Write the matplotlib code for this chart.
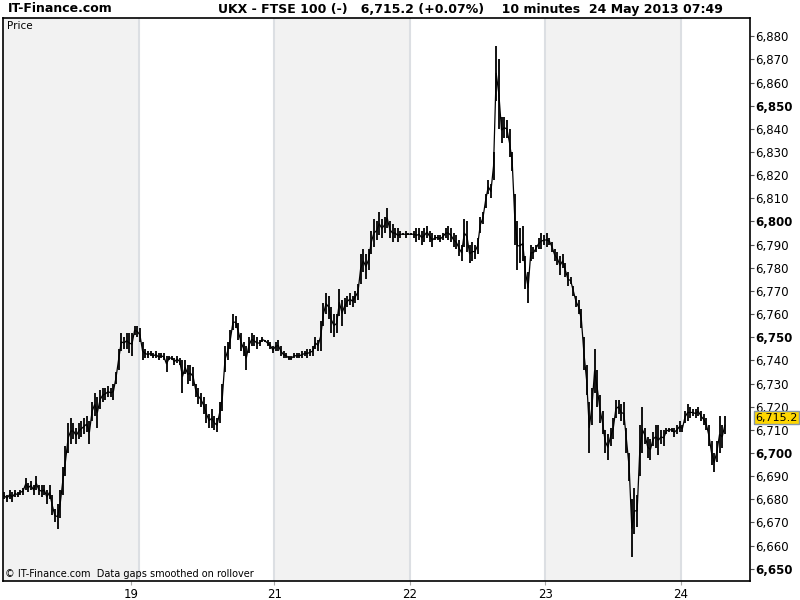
import matplotlib
matplotlib.use("Agg")
import matplotlib.pyplot as plt
import numpy as np

# ── 数据: 每日 10 分钟 K 线 (low, high) ──
day17_lo = [6680, 6679, 6680, 6679, 6681, 6681, 6682, 6682, 6684, 6683,
            6684, 6682, 6684, 6682, 6681, 6682, 6678, 6680, 6673, 6670,
            6667, 6672, 6682, 6690, 6700, 6704, 6706, 6704, 6706, 6707,
            6708, 6709, 6704, 6714, 6716, 6711, 6719, 6722, 6723, 6724,
            6724, 6723, 6730, 6736, 6744, 6745, 6745, 6743, 6742, 6751, 6750]
day17_hi = [6683, 6682, 6684, 6683, 6684, 6683, 6684, 6685, 6689, 6687,
            6688, 6686, 6690, 6686, 6686, 6686, 6684, 6686, 6682, 6676,
            6678, 6684, 6694, 6703, 6713, 6715, 6713, 6711, 6713, 6714,
            6715, 6716, 6714, 6722, 6726, 6724, 6727, 6728, 6728, 6729,
            6728, 6730, 6735, 6745, 6752, 6750, 6752, 6752, 6752, 6755, 6755]

day20_lo = [6748, 6740, 6741, 6741, 6742, 6741, 6741, 6740, 6741, 6740,
            6735, 6740, 6740, 6738, 6739, 6738, 6726, 6734, 6730, 6731,
            6729, 6724, 6721, 6720, 6717, 6713, 6711, 6711, 6710, 6709,
            6713, 6718, 6735, 6740, 6745, 6753, 6754, 6749, 6744, 6742,
            6736, 6743, 6746, 6746, 6745, 6746, 6748, 6748, 6746, 6745, 6743]
day20_hi = [6754, 6748, 6745, 6744, 6744, 6743, 6744, 6743, 6743, 6743,
            6742, 6742, 6742, 6741, 6742, 6741, 6740, 6740, 6738, 6738,
            6737, 6730, 6728, 6726, 6724, 6721, 6717, 6719, 6716, 6715,
            6722, 6730, 6746, 6748, 6753, 6760, 6759, 6756, 6752, 6748,
            6746, 6750, 6752, 6751, 6750, 6749, 6750, 6749, 6749, 6748, 6746]

day21_lo = [6744, 6744, 6742, 6741, 6741, 6740, 6740, 6741, 6741, 6741,
            6741, 6742, 6741, 6742, 6742, 6745, 6744, 6744, 6755, 6760,
            6758, 6752, 6750, 6752, 6759, 6755, 6760, 6763, 6764, 6763,
            6765, 6766, 6773, 6778, 6775, 6779, 6786, 6789, 6792, 6794,
            6793, 6795, 6797, 6793, 6791, 6793, 6791, 6793, 6794, 6793, 6794]
day21_hi = [6748, 6749, 6746, 6744, 6743, 6742, 6742, 6743, 6743, 6743,
            6744, 6744, 6745, 6745, 6746, 6750, 6749, 6757, 6765, 6769,
            6768, 6763, 6760, 6760, 6771, 6766, 6767, 6768, 6769, 6768,
            6770, 6773, 6786, 6788, 6786, 6788, 6796, 6801, 6800, 6804,
            6801, 6802, 6806, 6800, 6799, 6797, 6797, 6796, 6795, 6796, 6795]

day22_lo = [6794, 6793, 6791, 6792, 6790, 6791, 6793, 6791, 6789, 6792,
            6792, 6791, 6792, 6793, 6792, 6791, 6789, 6788, 6785, 6783,
            6789, 6787, 6782, 6783, 6784, 6786, 6795, 6799, 6806, 6812,
            6810, 6818, 6852, 6840, 6834, 6836, 6836, 6828, 6822, 6790,
            6779, 6782, 6783, 6771, 6765, 6783, 6784, 6787, 6788, 6788, 6790]
day22_hi = [6795, 6796, 6797, 6797, 6796, 6797, 6798, 6796, 6795, 6794,
            6794, 6794, 6795, 6797, 6798, 6797, 6795, 6794, 6792, 6790,
            6801, 6800, 6790, 6791, 6790, 6793, 6802, 6804, 6812, 6818,
            6816, 6830, 6876, 6870, 6845, 6845, 6844, 6840, 6830, 6812,
            6800, 6797, 6798, 6785, 6778, 6790, 6789, 6790, 6793, 6795, 6794]

day23_lo = [6789, 6790, 6787, 6783, 6781, 6777, 6780, 6776, 6772, 6773,
            6768, 6763, 6760, 6754, 6736, 6725, 6700, 6712, 6726, 6720,
            6713, 6708, 6700, 6697, 6703, 6706, 6715, 6717, 6714, 6712,
            6700, 6688, 6655, 6665, 6668, 6690, 6700, 6704, 6698, 6697,
            6703, 6702, 6699, 6704, 6703, 6708, 6709, 6709, 6707, 6708, 6709]
day23_hi = [6795, 6793, 6791, 6788, 6787, 6785, 6786, 6782, 6778, 6776,
            6772, 6768, 6766, 6762, 6750, 6738, 6722, 6728, 6745, 6736,
            6725, 6718, 6710, 6708, 6711, 6715, 6723, 6723, 6721, 6722,
            6711, 6700, 6680, 6685, 6682, 6712, 6720, 6711, 6707, 6706,
            6709, 6712, 6712, 6710, 6710, 6711, 6711, 6711, 6711, 6712, 6714]

day24_lo = [6709, 6713, 6714, 6715, 6716, 6715, 6716, 6714, 6712, 6710,
            6703, 6695, 6692, 6696, 6700, 6702, 6708]
day24_hi = [6712, 6718, 6721, 6720, 6719, 6719, 6720, 6718, 6717, 6715,
            6712, 6705, 6700, 6705, 6716, 6712, 6716]

day_lows = [day17_lo, day20_lo, day21_lo, day22_lo, day23_lo, day24_lo]
day_highs = [day17_hi, day20_hi, day21_hi, day22_hi, day23_hi, day24_hi]

tick_pos = [0.944, 2, 3, 4, 5]
tick_labels = ["19", "21", "22", "23", "24"]
y_ticks = list(range(6650, 6890, 10))
last_price = 6715.2
bars_per_day = 51

title_left = "IT-Finance.com"
title_main = "UKX - FTSE 100 (-)   6,715.2 (+0.07%)    10 minutes  24 May 2013 07:49"
footer = "\u00a9 IT-Finance.com  Data gaps smoothed on rollover"

# ── 画布 ──
fig = plt.figure(figsize=(8, 6), dpi=100)
ax = fig.add_axes([3 / 800, 1 - 581 / 600, 747 / 800, 563 / 600])
x_max = 747 / 135.6
ax.set_xlim(0, x_max)
ax.set_ylim(6644.7, 6887.9)

# 交替日背景
for d in range(6):
    if d % 2 == 0:
        ax.axvspan(d, min(d + 1, x_max), color="#f2f2f2", zorder=0, lw=0)
    if d > 0:
        ax.axvline(d, color="#dcdfe3", lw=1.5, zorder=1)

# 价格: 高低竖线 + 中点连线
xs, lows, highs = [], [], []
for d, (lo, hi) in enumerate(zip(day_lows, day_highs)):
    for i in range(len(lo)):
        xs.append(d + (i + 0.5) / bars_per_day)
        lows.append(lo[i])
        highs.append(hi[i])
xs = np.array(xs)
lows = np.array(lows)
highs = np.array(highs)
ax.vlines(xs, lows, highs, color="black", lw=1.3, zorder=3)
ax.plot(xs, (lows + highs) / 2, color="black", lw=0.9, zorder=3)

# 坐标轴
for s in ax.spines.values():
    s.set_color("black")
    s.set_linewidth(1.2)
ax.yaxis.tick_right()
ax.set_yticks(y_ticks)
ax.set_yticklabels([f"{v:,}" for v in y_ticks], fontsize=8.5,
                   family="DejaVu Sans")
for lbl, v in zip(ax.get_yticklabels(), y_ticks):
    if v % 50 == 0:
        lbl.set_fontweight("bold")
ax.tick_params(axis="y", length=3, width=0.8, color="#555555", pad=1)
ax.set_xticks(tick_pos)
ax.set_xticklabels(tick_labels, fontsize=8.5)
ax.tick_params(axis="x", length=3, color="#aaaaaa", pad=2)

# 当前价格标签
ax.annotate(f"{last_price:,.1f}", xy=(1.0, last_price), xycoords=("axes fraction", "data"),
            xytext=(4, 0), textcoords="offset points", va="center", ha="left",
            fontsize=8, color="black",
            bbox=dict(boxstyle="square,pad=0.12", fc="#ffd700", ec="#8899aa", lw=1),
            zorder=5)

ax.text(0.005, 0.995, "Price", transform=ax.transAxes, fontsize=7.5,
        va="top", ha="left")
ax.text(0.003, 0.003, footer, transform=ax.transAxes, fontsize=7,
        va="bottom", ha="left")

# 标题
fig.text(8 / 800, 1 - 9 / 600, title_left, fontsize=9, fontweight="bold",
         family="Liberation Sans Narrow", va="center", ha="left")
fig.text(470 / 800, 1 - 9 / 600, title_main, fontsize=9, fontweight="bold",
         family="Liberation Sans Narrow", va="center", ha="center")

fig.savefig("out.png", dpi=100)
plt.close(fig)
